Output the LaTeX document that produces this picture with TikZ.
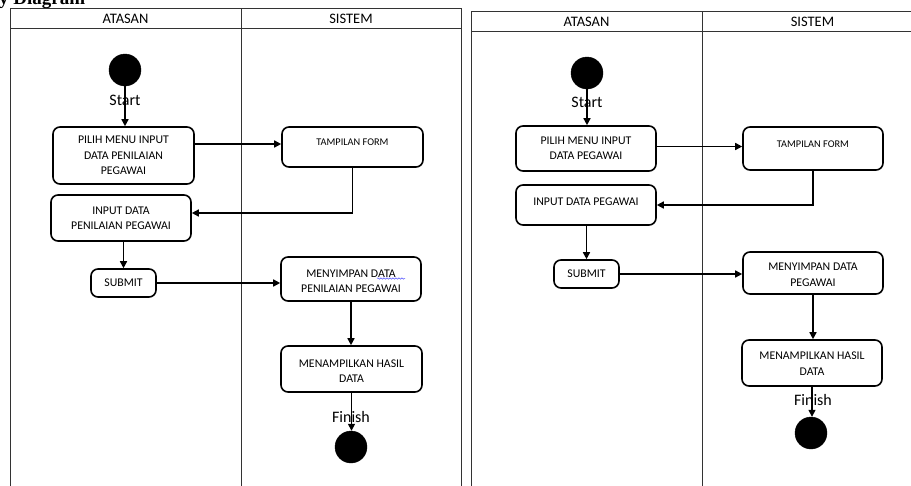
\documentclass[tikz,border=0pt]{standalone}
\usepackage{fontspec}
\setmainfont{Carlito}
\newfontfamily\titlefont{Liberation Serif}
\usetikzlibrary{arrows.meta,decorations.pathmorphing}
\newcommand{\vmove}[2]{\raisebox{#1}[\height][\depth]{#2}}
\newcommand{\twol}[2]{\begin{tabular}{@{}c@{}}#1\\#2\end{tabular}}
\begin{document}
\begin{tikzpicture}[x=1pt,y=-1pt,
  frame/.style={draw=black!80, line width=0.8pt},
  hdr/.style={font=\fontsize{14.5}{16}\selectfont, inner sep=0pt},
  act/.style={draw, line width=1.6pt, rounded corners=7pt, align=center,
    font=\fontsize{11.8}{15.5}\selectfont, inner sep=0pt},
  smallact/.style={act, font=\fontsize{10.3}{13}\selectfont},
  dot/.style={circle, fill=black, draw=black, minimum size=32pt, inner sep=0pt},
  lbl/.style={font=\fontsize{16}{18}\selectfont, inner sep=0pt},
  arr/.style={line width=1.5pt, -{Triangle[length=7pt,width=7pt]}}]
\useasboundingbox (0,0) rectangle (911,485);
\clip (0,0) rectangle (911,485);

% title (cut off at top)
\node[anchor=base west, font=\titlefont\bfseries\fontsize{19}{19}\selectfont, inner sep=0pt] (title) at (-1,4) {y Diagram};

% ---------- left diagram frame ----------
\draw[frame] (10,495) -- (10,8) -- (461,8) -- (461,495);
\draw[frame] (10,28) -- (461,28);
\draw[frame] (241,8) -- (241,495);
\node[hdr] (h1a) at (125.5,19) {ATASAN};
\node[hdr] (h1s) at (351,19) {SISTEM};

% ---------- right diagram frame ----------
\draw[frame] (471,495) -- (471,11) -- (930,11);
\draw[frame] (471,31) -- (930,31);
\draw[frame] (702,11) -- (702,495);
\node[hdr] (h2a) at (586.5,22) {ATASAN};
\node[hdr] (h2s) at (812.5,22) {SISTEM};

% ---------- left diagram nodes ----------
\node[dot] (st1) at (125,70) {};
\node[lbl] (stl1) at (125,100) {Start};
\node[act, minimum width=141, minimum height=57] (pm1) at (123.5,155.5) {PILIH MENU INPUT\\DATA PENILAIAN\\PEGAWAI};
\node[smallact, minimum width=141, minimum height=40] (tf1) at (352.5,147) {\vmove{5pt}{TAMPILAN FORM}};
\node[act, minimum width=140, minimum height=46] (in1) at (121,218) {\vmove{-1pt}{\twol{INPUT DATA}{PENILAIAN PEGAWAI}}};
\node[act, minimum width=65, minimum height=28] (sb1) at (123.5,283) {SUBMIT};
\node[act, minimum width=140, minimum height=44] (ms1) at (351,279) {\vmove{-3pt}{\twol{MENYIMPAN DATA}{PENILAIAN PEGAWAI}}};
\node[act, minimum width=141, minimum height=46] (mn1) at (351.5,369) {\vmove{-3pt}{\twol{MENAMPILKAN HASIL}{DATA}}};
\node[lbl] (fl1) at (351,417) {Finish};
\node[dot] (en1) at (351,447) {};
\draw[blue!70, line width=0.5pt, decorate, decoration={snake, amplitude=0.7pt, segment length=3pt}] (377,278.5) -- (405,278.5);

% ---------- left diagram connectors ----------
\draw[arr] (st1.south) -- (st1.south |- pm1.north);
\path ([yshift=3pt]tf1.west) coordinate (a1);
\draw[arr] (pm1.east |- a1) -- (a1);
\draw[arr] (tf1.south) |- ([yshift=5pt]in1.east);
\draw[arr] (in1.south -| sb1.north) -- (sb1.north);
\draw[arr] (sb1.east) -- (sb1.east -| ms1.west);
\draw[arr] (ms1.south) -- (ms1.south |- mn1.north);
\draw[arr] (mn1.south) -- (mn1.south |- en1.north);

% ---------- right diagram nodes ----------
\node[dot] (st2) at (587,73) {};
\node[lbl] (stl2) at (587,102) {Start};
\node[act, minimum width=140, minimum height=45] (pm2) at (586,148.5) {PILIH MENU INPUT\\DATA PEGAWAI};
\node[smallact, minimum width=140, minimum height=43] (tf2) at (813,148.5) {\vmove{4.5pt}{TAMPILAN FORM}};
\node[act, minimum width=140, minimum height=40] (in2) at (586,205) {\vmove{3pt}{INPUT DATA PEGAWAI}};
\node[act, minimum width=65, minimum height=28] (sb2) at (586.5,274) {SUBMIT};
\node[act, minimum width=140, minimum height=42] (ms2) at (813,273) {\vmove{-2.5pt}{\twol{MENYIMPAN DATA}{PEGAWAI}}};
\node[act, minimum width=140, minimum height=46] (mn2) at (812,363) {\vmove{-1.5pt}{\twol{MENAMPILKAN HASIL}{DATA}}};
\node[lbl] (fl2) at (813,400) {Finish};
\node[dot] (en2) at (811,433) {};

% ---------- right diagram connectors ----------
\draw[arr] (st2.south) -- (st2.south |- pm2.north);
\path ([yshift=2pt]tf2.west) coordinate (a2);
\draw[arr] (pm2.east |- a2) -- (a2);
\draw[arr] (tf2.south) |- (in2.east);
\draw[arr] (in2.south -| sb2.north) -- (sb2.north);
\draw[arr] (sb2.east) -- (sb2.east -| ms2.west);
\draw[arr] (ms2.south) -- (ms2.south |- mn2.north);
\draw[arr] (mn2.south) -- (mn2.south |- en2.north);
\end{tikzpicture}
\end{document}
